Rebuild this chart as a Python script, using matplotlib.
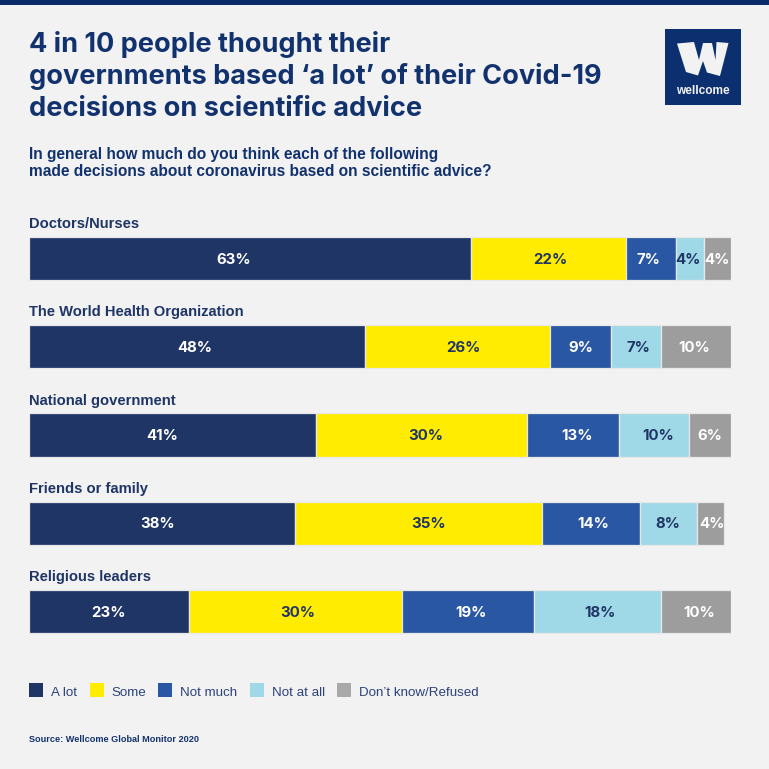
#!/usr/bin/env python3

from matplotlib import pyplot as plt
from matplotlib.patches import Polygon, Rectangle
import numpy as np

categories = ['Doctors/Nurses', 'The World Health Organization', 'National government',
              'Friends or family', 'Religious leaders']
# widths, labels are these rounded
a_lot      = [63.0, 47.9, 40.9, 37.9, 22.8]
some       = [22.1, 26.3, 30.0, 35.2, 30.4]
not_much   = [7.0, 8.7, 13.1, 14.0, 18.8]
not_at_all = [4.0, 7.1, 10.0, 8.1, 18.1]
dont_know  = [3.9, 10.0, 6.0, 3.8, 9.9]

series_names = ['A lot', 'Some', 'Not much', 'Not at all', 'Don\u2019t know/Refused']
colours      = ['#1f3566', '#ffec00', '#2957a4', '#9fd8e6', '#9d9d9d']
legend_cols  = ['#1f3566', '#ffec00', '#2957a4', '#9fd8e6', '#a9a9a9']
text_colours = ['white', '#1f3566', 'white', '#1f3566', 'white']

# labels are not centred in the segments in the original, pixel x per series
label_px = [[234, 195, 162, 158, 109],
            [550, 463, 426, 429, 298],
            [648, 581, 577, 593, 471],
            [688, 638, 658, 668, 600],
            [717, 694, 710, 712, 699]]

W = 769
NAVY = '#12326e'
BG = '#f2f2f2'
TITLE_FONT = 'Inter'
BODY_FONT = 'Liberation Sans'

fig = plt.figure(figsize=(7.69, 7.69), dpi=100, facecolor=BG)

# bars, axes placed in pixels
left, right, top, bottom = 28.5, 731, 214.4, 655.6
ax = fig.add_axes([left/W, 1-bottom/W, (right-left)/W, (bottom-top)/W])
ax.set_xlim(0, 100)
ax.set_ylim(4.5, -0.5)
ax.axis('off')

y_vals = np.arange(len(categories))
starts = np.zeros(len(categories))
all_series = [a_lot, some, not_much, not_at_all, dont_know]
for vals, col, tcol, lab_x in zip(all_series, colours, text_colours, label_px):
    vals = np.array(vals)
    ax.barh(y_vals, vals, left=starts, height=0.49, color=col, edgecolor='#e8e8e8', linewidth=0.9)
    for y, px, v in zip(y_vals, lab_x, vals):
        ax.text((px-left)/(right-left)*100, y+0.012, f'{v:.0f}%', ha='center', va='center', color=tcol,
                family=TITLE_FONT, weight='bold', fontsize=10.8)
    starts += vals

for y, cat in zip(y_vals, categories):
    ax.annotate(cat, (0, y), xytext=(0.5, 24.8), textcoords='offset points', va='center',
                color='#1f3566', family=BODY_FONT, weight='bold', fontsize=10.6)

# everything else in pixel coordinates
ov = fig.add_axes([0, 0, 1, 1], facecolor='none', zorder=5)
ov.set_xlim(0, W)
ov.set_ylim(W, 0)
ov.axis('off')

ov.add_patch(Rectangle((0, 0), W, 4.5, color='#0b2a68', lw=0))

title = ['4 in 10 people thought their',
         'governments based \u2018a lot\u2019 of their Covid-19',
         'decisions on scientific advice']
for y, line in zip([44.5, 77, 109.5], title):
    ov.text(29, y, line, va='center', color=NAVY, family=TITLE_FONT, weight='bold', fontsize=19.5)

for y, line in zip([154, 172], ['In general how much do you think each of the following',
                                'made decisions about coronavirus based on scientific advice?']):
    ov.text(29, y, line, va='center', color=NAVY, family=BODY_FONT, weight='bold', fontsize=11.2)

# logo
ov.add_patch(Rectangle((665, 28.5), 76, 76, color='#0b2f6f', lw=0))
ov.add_patch(Polygon([(677, 43.5), (694, 42), (699, 60), (703, 43), (712, 43), (715.5, 60),
                      (716.5, 42), (728.5, 43), (720, 76), (707, 72.5), (703, 61), (698, 75.5), (686, 72)],
                     closed=True, color=BG, lw=0))
ov.text(703, 90.5, 'wellcome', ha='center', va='center', color=BG, family=BODY_FONT,
        weight='bold', fontsize=8.6)

# legend
swatch_x = [28.7, 89.7, 158, 249.5, 337]
label_x  = [51, 111.5, 180, 271.5, 359]
for sx, lx, name, col in zip(swatch_x, label_x, series_names, legend_cols):
    ov.add_patch(Rectangle((sx, 683), 14.3, 14.3, color=col, lw=0))
    ov.text(lx, 692.5, name, va='center', color='#2c4279', family=BODY_FONT, fontsize=9.65)

ov.text(29, 739, 'Source: Wellcome Global Monitor 2020', va='center', color=NAVY,
        family=BODY_FONT, weight='bold', fontsize=6.55)

plt.savefig('out.png', dpi=100, facecolor=BG)
